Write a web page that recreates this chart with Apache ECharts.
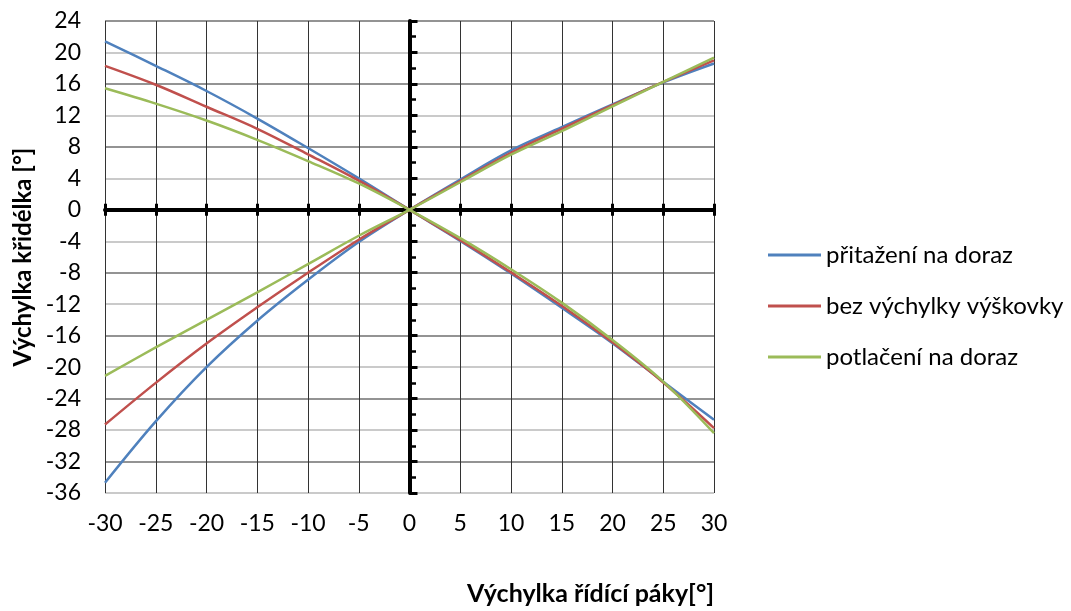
<!DOCTYPE html>
<html>
<head>
<meta charset="utf-8">
<script src="https://cdn.jsdelivr.net/npm/echarts@6/dist/echarts.min.js"></script>
<style>
  html, body { margin: 0; padding: 0; background: #fff; }
  #chart { width: 1071px; height: 611px; }
</style>
</head>
<body>
<div id="chart"></div>
<script>
// výchylka řídící páky [°]
var xVals = [-30, -25, -20, -15, -10, -5, 0, 5, 10, 15, 20, 25, 30];

// přitažení na doraz (modrá) - dvě větve
var blueDown = [21.4, 18.3, 15.1, 11.6, 7.85, 4.0, 0, -3.95, -8.1, -12.45, -16.95, -21.85, -26.7];
var blueUp = [-34.7, -26.9, -20.0, -14.1, -8.9, -4.1, 0, 3.85, 7.55, 10.5, 13.4, 16.2, 18.6];
// bez výchylky výškovky (červená)
var redDown = [18.3, 15.9, 13.1, 10.3, 7.05, 3.7, 0, -3.85, -7.95, -12.2, -16.85, -21.95, -27.75];
var redUp = [-27.3, -22.0, -17.0, -12.4, -8.0, -3.8, 0, 3.65, 7.25, 10.3, 13.3, 16.25, 19.0];
// potlačení na doraz (zelená)
var greenDown = [15.45, 13.5, 11.35, 8.9, 6.2, 3.35, 0, -3.6, -7.55, -11.8, -16.55, -21.85, -28.4];
var greenUp = [-21.1, -17.5, -14.0, -10.5, -6.9, -3.3, 0, 3.5, 7.0, 10.0, 13.15, 16.25, 19.35];

var names = ['přitažení na doraz', 'bez výchylky výškovky', 'potlačení na doraz'];
var colors = ['#4F81BD', '#C0504D', '#9BBB59'];

var xMin = -30, xMax = 30, xStep = 5;
var yMin = -36, yMax = 24, yStep = 4;

var FONT = 'Lato';

function pairs(ys) {
  return xVals.map(function (x, i) { return [x, ys[i]]; });
}

function line(idx, ys) {
  return {
    name: names[idx],
    type: 'line',
    data: pairs(ys),
    smooth: 0.35,
    symbol: 'none',
    xAxisIndex: 0,
    yAxisIndex: 0,
    itemStyle: { color: colors[idx] },
    lineStyle: { color: colors[idx], width: 2.5 }
  };
}

var chart = echarts.init(document.getElementById('chart'), null, { renderer: 'canvas' });

var option = {
  animation: false,
  textStyle: { fontFamily: FONT },
  grid: {
    left: 105, right: 357, top: 21, bottom: 118,
    containLabel: false,
    outerBoundsMode: 'none'
  },
  title: {
    text: 'Výchylka řídící páky[°]',
    left: 467, top: 581,
    padding: 0,
    textStyle: { fontFamily: FONT, fontSize: 25, fontWeight: 'bold', color: '#000' }
  },
  legend: {
    orient: 'vertical',
    left: 768, top: 243,
    padding: 0,
    icon: 'rect',
    itemWidth: 53, itemHeight: 3,
    itemGap: 27,
    data: names,
    textStyle: { fontFamily: FONT, fontSize: 24, color: '#000' }
  },
  xAxis: [
    {
      // spodní popisky + svislá mřížka
      type: 'value', position: 'bottom',
      min: xMin, max: xMax, interval: xStep,
      axisLine: { show: false, onZero: false },
      axisTick: { show: false },
      axisLabel: { fontFamily: FONT, fontSize: 23, color: '#000', margin: 19 },
      splitLine: { show: true, lineStyle: { color: '#333333', width: 1 } }
    },
    {
      // osa v nule, čárky dolů
      type: 'value', position: 'bottom',
      min: xMin, max: xMax, interval: xStep,
      axisLine: { show: true, onZero: true, onZeroAxisIndex: 0, lineStyle: { color: '#000', width: 4 } },
      axisTick: { show: true, inside: false, length: 6, lineStyle: { color: '#000', width: 3 } },
      axisLabel: { show: false },
      splitLine: { show: false }
    },
    {
      // čárky nahoru
      type: 'value', position: 'bottom',
      min: xMin, max: xMax, interval: xStep,
      axisLine: { show: false, onZero: true, onZeroAxisIndex: 0 },
      axisTick: { show: true, inside: true, length: 6, lineStyle: { color: '#000', width: 3 } },
      axisLabel: { show: false },
      splitLine: { show: false }
    }
  ],
  yAxis: [
    {
      type: 'value', position: 'left',
      min: yMin, max: yMax, interval: yStep,
      name: 'Výchylka křidélka [°]',
      nameLocation: 'middle',
      nameRotate: 90,
      nameGap: 70,
      nameMoveOverlap: false,
      nameTextStyle: { fontFamily: FONT, fontSize: 24, fontWeight: 'bold', color: '#000' },
      axisLine: { show: false, onZero: false },
      axisTick: { show: false },
      axisLabel: { fontFamily: FONT, fontSize: 23, color: '#000', margin: 24 },
      splitLine: { show: true, lineStyle: { color: ['#b8b8b8', '#6f6f6f'], width: 1.6 } }
    },
    {
      // osa v nule s čárkami doprava
      type: 'value', position: 'left',
      min: yMin, max: yMax, interval: yStep,
      axisLine: { show: true, onZero: true, onZeroAxisIndex: 0, lineStyle: { color: '#000', width: 4 } },
      axisTick: { show: true, inside: true, length: 8, lineStyle: { color: '#000', width: 3 } },
      minorTick: { show: true, splitNumber: 2, length: 6.5, lineStyle: { color: '#000', width: 2.5 } },
      axisLabel: { show: false },
      splitLine: { show: false }
    }
  ],
  series: [
    line(0, blueDown), line(0, blueUp),
    line(1, redDown), line(1, redUp),
    line(2, greenDown), line(2, greenUp)
  ]
};

chart.setOption(option);
</script>
</body>
</html>
